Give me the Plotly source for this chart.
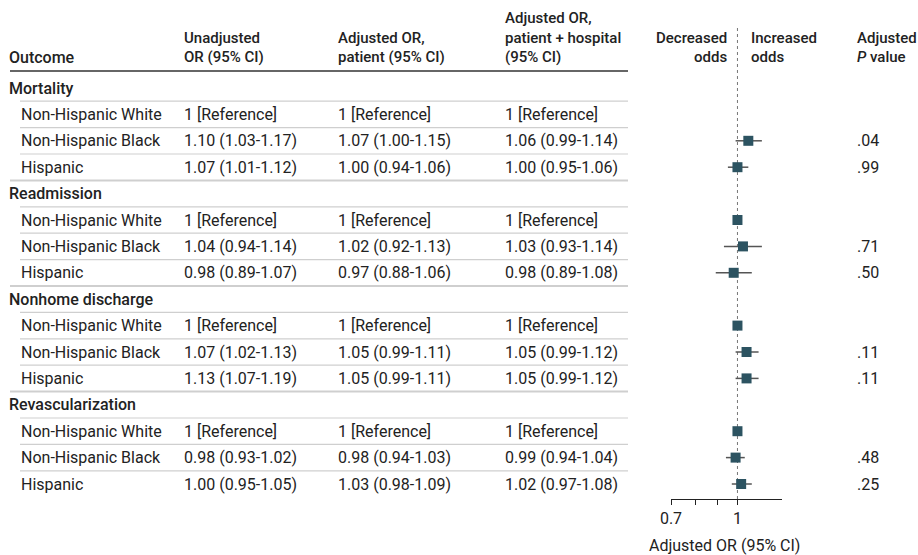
import math
import plotly.graph_objects as go

# ---- data -------------------------------------------------------------
outcomes = ["Mortality", "Readmission", "Nonhome discharge", "Revascularization"]
groups = ["Non-Hispanic White", "Non-Hispanic Black", "Hispanic"]

# one entry per (outcome, group); None marks the reference group
unadj_or = [None, 1.10, 1.07, None, 1.04, 0.98, None, 1.07, 1.13, None, 0.98, 1.00]
unadj_lo = [None, 1.03, 1.01, None, 0.94, 0.89, None, 1.02, 1.07, None, 0.93, 0.95]
unadj_hi = [None, 1.17, 1.12, None, 1.14, 1.07, None, 1.13, 1.19, None, 1.02, 1.05]

pat_or = [None, 1.07, 1.00, None, 1.02, 0.97, None, 1.05, 1.05, None, 0.98, 1.03]
pat_lo = [None, 1.00, 0.94, None, 0.92, 0.88, None, 0.99, 0.99, None, 0.94, 0.98]
pat_hi = [None, 1.15, 1.06, None, 1.13, 1.06, None, 1.11, 1.11, None, 1.03, 1.09]

full_or = [None, 1.06, 1.00, None, 1.03, 0.98, None, 1.05, 1.05, None, 0.99, 1.02]
full_lo = [None, 0.99, 0.95, None, 0.93, 0.89, None, 0.99, 0.99, None, 0.94, 0.97]
full_hi = [None, 1.14, 1.06, None, 1.14, 1.08, None, 1.12, 1.12, None, 1.04, 1.08]

p_values = [None, ".04", ".99", None, ".71", ".50", None, ".11", ".11", None, ".48", ".25"]

reference_or = 1.0
# whether the reference group gets a square in the forest plot
ref_marker = [False, True, True, True]

axis_ticks = [0.7, 0.8, 0.9, 1.0]
axis_ticktext = ["0.7", "", "", "1"]

# ---- layout helpers ---------------------------------------------------
W, H = 918, 555
FONT = "Roboto"
FS = 16
FS_HEAD = 15
TXT = "#222222"
TOP, STEP = 88.0, 26.4


def slot_y(slot):
    return TOP + STEP * slot


def fx(px):
    return px / W


def fmt(o, lo, hi):
    if o is None:
        return "1 [Reference]"
    return f"{o:.2f} ({lo:.2f}-{hi:.2f})"


fig = go.Figure()
annotations = []
shapes = []


def text(x, y, s, anchor="left", weight=400, size=FS):
    annotations.append(dict(
        x=fx(x), xref="paper", y=y, yref="y", text=s, showarrow=False,
        xanchor=anchor, yanchor="middle", borderpad=0,
        font=dict(family=FONT, size=size, color=TXT, weight=weight),
    ))


def head(x, y, s, anchor="left"):
    text(x, y, s, anchor=anchor, weight=500, size=FS_HEAD)


def hline(x0, x1, y, color, width):
    shapes.append(dict(type="line", xref="paper", yref="y",
                       x0=fx(x0), x1=fx(x1), y0=y, y1=y,
                       line=dict(color=color, width=width), layer="below"))


COL0, COL0_SUB, COL1, COL2, COL3, COLP = 8, 20, 183, 337, 504, 856
H1, H2, H3 = 18, 38, 57

# column headers
text(COL0, H3, "Outcome", weight=500)
head(COL1, H2, "Unadjusted")
head(COL1, H3, "OR (95% CI)")
head(COL2, H2, "Adjusted OR,")
head(COL2, H3, "patient (95% CI)")
head(COL3, H1, "Adjusted OR,")
head(COL3, H2, "patient + hospital")
head(COL3, H3, "(95% CI)")
head(728, H2, "Decreased", anchor="right")
head(728, H3, "odds", anchor="right")
head(750, H2, "Increased")
head(750, H3, "odds")
head(COLP, H2, "Adjusted")
head(COLP, H3, "<i>P</i> value")
hline(10, 628, 71, "#333333", 1.6)

ci_x, ci_y, mk_x, mk_y = [], [], [], []
for k, outcome in enumerate(outcomes):
    base = 4 * k
    y_head = slot_y(base)
    text(COL0, y_head, outcome, weight=500)
    hline(20, 628, y_head + STEP / 2, "#cfcfcf", 1.2)
    for j, grp in enumerate(groups):
        i = 3 * k + j
        y = slot_y(base + 1 + j)
        text(COL0_SUB, y, grp)
        text(COL1, y, fmt(unadj_or[i], unadj_lo[i], unadj_hi[i]))
        text(COL2, y, fmt(pat_or[i], pat_lo[i], pat_hi[i]))
        text(COL3, y, fmt(full_or[i], full_lo[i], full_hi[i]))
        if p_values[i] is not None:
            text(COLP, y, p_values[i])
        if full_or[i] is None:
            if ref_marker[k]:
                mk_x.append(reference_or)
                mk_y.append(y)
        else:
            ci_x += [full_lo[i], full_hi[i], None]
            ci_y += [y, y, None]
            mk_x.append(full_or[i])
            mk_y.append(y)
        last = (k == len(outcomes) - 1 and j == len(groups) - 1)
        if not last:
            if j < len(groups) - 1:
                hline(20, 628, y + STEP / 2, "#cfcfcf", 1.2)
            else:
                hline(10, 628, y + STEP / 2, "#cfcfcf", 2)

AXIS_Y = 499

# reference line at OR = 1
shapes.append(dict(type="line", xref="x", yref="y", x0=1, x1=1, y0=28, y1=AXIS_Y,
                   line=dict(color="#777777", width=1, dash="dot"), layer="below"))

fig.add_trace(go.Scatter(x=ci_x, y=ci_y, mode="lines",
                         line=dict(color="#555555", width=1.5),
                         hoverinfo="skip", showlegend=False))
fig.add_trace(go.Scatter(x=mk_x, y=mk_y, mode="markers",
                         marker=dict(symbol="square", size=10, color="#2c5361",
                                     line=dict(width=0)),
                         showlegend=False))

text(724, 545, "Adjusted OR (95% CI)", anchor="center")

fig.update_layout(
    width=W, height=H,
    margin=dict(l=0, r=0, t=0, b=0, pad=0, autoexpand=False),
    paper_bgcolor="white", plot_bgcolor="white",
    showlegend=False,
    annotations=annotations,
    shapes=shapes,
    xaxis=dict(
        type="log",
        domain=[fx(671), fx(782)],
        range=[math.log10(0.7), math.log10(1.27)],
        anchor="free", position=1 - AXIS_Y / H,
        showline=True, linecolor="#222222", linewidth=1,
        ticks="outside", ticklen=5, tickcolor="#222222", tickwidth=1,
        tickvals=axis_ticks, ticktext=axis_ticktext,
        tickfont=dict(family=FONT, size=FS, color=TXT),
        showgrid=False, zeroline=False, automargin=False,
    ),
    yaxis=dict(range=[H, 0], domain=[0, 1], visible=False, showgrid=False,
               zeroline=False, automargin=False),
)

fig.write_html("out.html")
